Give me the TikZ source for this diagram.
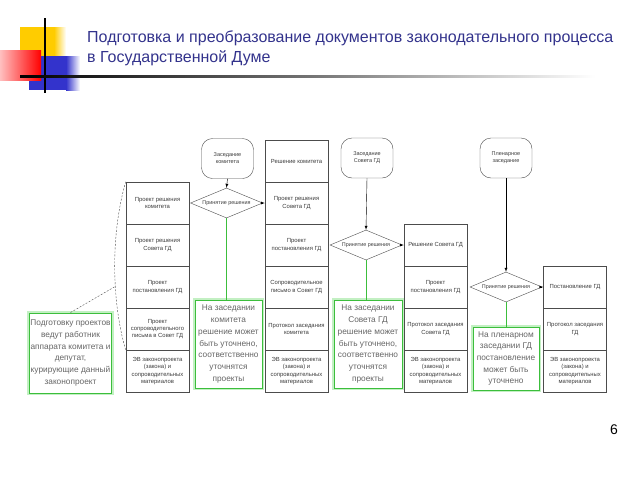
\documentclass[tikz,border=0pt]{standalone}
\usepackage{fontspec}
\setmainfont{Liberation Sans}
\usetikzlibrary{shapes.geometric, positioning, arrows}
\definecolor{titleblue}{RGB}{51,51,140}
\definecolor{decoyellow}{RGB}{255,204,0}
\definecolor{decored}{RGB}{255,0,0}
\definecolor{decoblue}{RGB}{51,51,204}
\definecolor{notegreen}{RGB}{60,190,60}
\definecolor{noteglow}{RGB}{195,240,195}
\definecolor{celltext}{RGB}{60,60,60}
\tikzset{>=latex}
\tikzset{
  docbox/.style={draw=black!70, line width=0.5pt, minimum width=63pt,
    minimum height=42pt, inner sep=1pt, align=center, text=celltext,
    font=\fontsize{5.9}{7.2}\selectfont},
  meeting/.style={draw=black!70, rounded corners=11pt, minimum width=52pt,
    minimum height=40pt, align=center, text=celltext,
    font=\fontsize{5.5}{7}\selectfont},
  decision/.style={diamond, draw=black!70, aspect=2.4, minimum width=72pt,
    minimum height=30pt, inner sep=0pt, text=celltext,
    font=\fontsize{5.4}{7}\selectfont},
  notebox/.style={draw=notegreen, line width=0.9pt,
    preaction={draw=noteglow, line width=4pt}, fill=white, align=center,
    text=black!60, inner sep=1pt, font=\fontsize{8.3}{11.7}\selectfont},
  greenline/.style={draw=notegreen, line width=0.9pt},
  dashline/.style={draw=black!70, dash pattern=on 2pt off 1.5pt},
}

\begin{document}
\begin{tikzpicture}[x=1pt, y=-1pt]
  \useasboundingbox (0,0) rectangle (640,480);
  % title decoration
  \fill[decoyellow] (20,27) rectangle (54,57);
  \shade[left color=decoyellow, right color=white] (54,27) rectangle (66,57);
  \fill[decoblue] (29,56) rectangle (66,90);
  \shade[left color=decoblue, right color=white] (66,56) rectangle (80,90);
  \shade[left color=decored!25, right color=decored] (0,50) rectangle (41,80);
  \draw[line width=1.5pt] (45,18) -- (45,93);
  \shade[left color=black, right color=white, middle color=black!55] (20,75) rectangle (595,77);
  \node[anchor=west, align=left, text=titleblue, inner sep=0pt,
    font=\fontsize{16}{20}\selectfont] (title) at (87,48)
    {Подготовка и преобразование документов законодательного процесса\\в Государственной Думе};

  % document columns
  \foreach \nm/\txt [count=\i from 1] in {
      c1a/{Проект решения\\комитета},
      c1b/{Проект решения\\Совета ГД},
      c1c/{Проект\\постановления ГД},
      c1d/{Проект\\сопроводительного\\письма в Совет ГД},
      c1e/{ЭВ законопроекта\\(закона) и\\сопроводительных\\материалов}}
    \node[docbox] (\nm) at (157.5,{161+42*\i}) {\txt};
  \foreach \nm/\txt [count=\i from 0] in {
      c2a/{Решение комитета},
      c2b/{Проект решения\\Совета ГД},
      c2c/{Проект\\постановления ГД},
      c2d/{Сопроводительное\\письмо в Совет ГД},
      c2e/{Протокол заседания\\комитета},
      c2f/{ЭВ законопроекта\\(закона) и\\сопроводительных\\материалов}}
    \node[docbox] (\nm) at (296.5,{161+42*\i}) {\txt};
  \foreach \nm/\txt [count=\i from 2] in {
      c3a/{Решение Совета ГД},
      c3b/{Проект\\постановления ГД},
      c3c/{Протокол заседания\\Совета ГД},
      c3d/{ЭВ законопроекта\\(закона) и\\сопроводительных\\материалов}}
    \node[docbox] (\nm) at (435.5,{161+42*\i}) {\txt};
  \foreach \nm/\txt [count=\i from 3] in {
      c4a/{Постановление ГД},
      c4b/{Протокол заседания\\ГД},
      c4c/{ЭВ законопроекта\\(закона) и\\сопроводительных\\материалов}}
    \node[docbox] (\nm) at (575,{161+42*\i}) {\txt};

  % meetings and decisions
  \node[meeting] (r1) at (227.5,158.5) {Заседание\\комитета};
  \node[meeting] (r2) at (367,158) {Заседание\\Совета ГД};
  \node[meeting] (r3) at (506,158) {Пленарное\\заседание};
  \node[decision] (d1) at (226.5,203) {Принятие решения};
  \node[decision] (d2) at (366,245) {Принятие решения};
  \node[decision] (d3) at (506,287) {Принятие решения};

  % green remarks
  \node[notebox, minimum width=81pt, minimum height=80pt] (prep) at (70.5,353)
    {Подготовку проектов\\ведут работник\\аппарата комитета и\\депутат,\\курирующие данный\\законопроект};
  \node[notebox, minimum width=67pt, minimum height=88pt] (g2) at (228.5,344)
    {На заседании\\комитета\\решение может\\быть уточнено,\\соответственно\\уточнятся\\проекты};
  \node[notebox, minimum width=68pt, minimum height=88pt] (g3) at (368,344)
    {На заседании\\Совета ГД\\решение может\\быть уточнено,\\соответственно\\уточнятся\\проекты};
  \node[notebox, minimum width=66pt, minimum height=63pt] (g4) at (506,358.5)
    {На пленарном\\заседании ГД\\постановление\\может быть\\уточнено};

  % connectors
  \draw[->] (r1.south) -- (d1.north);
  \draw[->] (r2.south) -- (d2.north);
  \draw[->] (r3.south) -- (d3.north);
  \draw[->] (d1.east) -- (c2b.west);
  \draw[->] (d2.east) -- (c3a.west);
  \draw[->] (d3.east) -- (c4a.west);
  \draw[greenline] (d1.south) -- (d1.south |- g2.north);
  \draw[greenline] (d2.south) -- (d2.south |- g3.north);
  \draw[greenline] (d3.south) -- (d3.south |- g4.north);
  \coordinate (arcpt) at (116,286);
  \draw[dashline] (c1a.north west) .. controls (111,232) and (111,300) .. (c1d.south west);
  \draw[dashline] (prep.north) -- (arcpt);

  \node[font=\fontsize{14}{16}\selectfont] (pagenum) at (614,430) {6};
\end{tikzpicture}
\end{document}
